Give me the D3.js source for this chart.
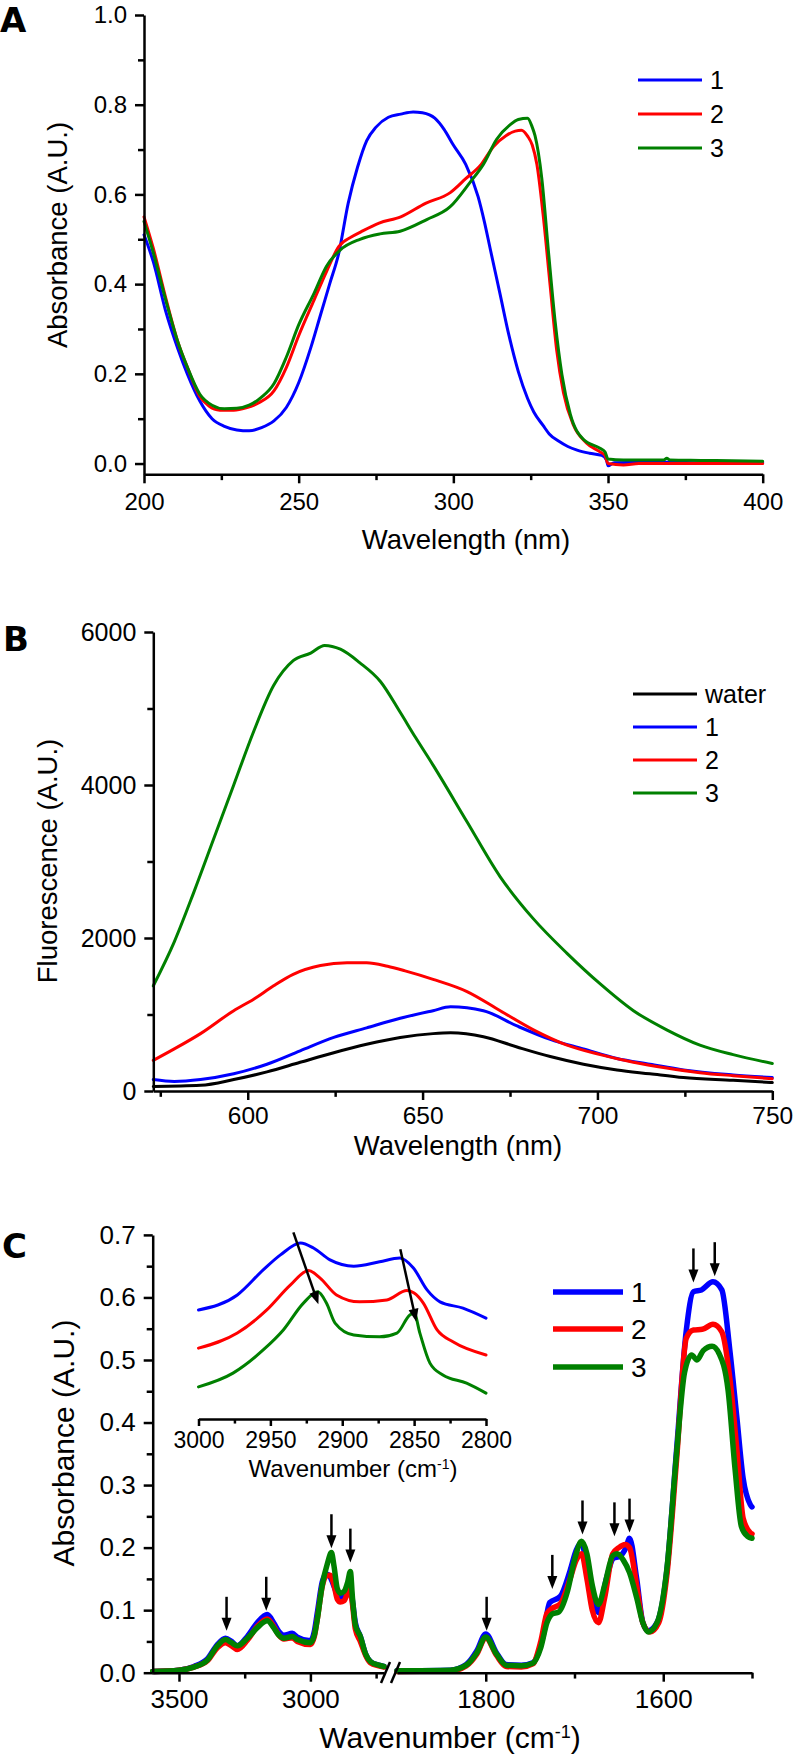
<!DOCTYPE html>
<html>
<head>
<meta charset="utf-8">
<script src="https://cdn.jsdelivr.net/npm/d3@7"></script>
<style>
body { margin: 0; background: #fff; }
svg { display: block; background: #fff; }
</style>
</head>
<body>
<svg width="793" height="1758"></svg>
<script>
// ---------- data ----------
// Panel A: UV-vis absorbance, [wavelength nm, absorbance]
var uvNames = ["1", "2", "3"];
var uv1 = [[200,0.51],[203,0.45],[207,0.34],[211,0.255],[214,0.2],[218,0.14],[222,0.1],[226,0.083],[230,0.075],[234,0.073],[238,0.08],[242,0.095],[246,0.125],[250,0.18],[254,0.26],[257,0.33],[260,0.4],[263,0.47],[266,0.58],[269,0.66],[272,0.72],[275,0.75],[279,0.772],[283,0.779],[287,0.784],[290,0.782],[294,0.77],[297,0.745],[300,0.71],[304,0.667],[308,0.595],[310,0.54],[312,0.476],[315,0.381],[318,0.285],[321,0.205],[324,0.145],[326,0.115],[329,0.085],[331,0.066],[334,0.05],[337,0.038],[340,0.03],[344,0.023],[348,0.018],[349.5,0.008],[350,-0.005],[352,0.002],[360,0.003],[370,0.003],[380,0.002],[390,0.002],[400,0.002]];
var uv2 = [[200,0.55],[203,0.48],[207,0.37],[211,0.27],[214,0.215],[218,0.15],[221,0.128],[224.5,0.119],[229,0.119],[233,0.124],[237,0.135],[242,0.162],[246,0.214],[250,0.285],[255,0.365],[259,0.428],[263,0.484],[267,0.505],[270,0.516],[276,0.536],[283,0.55],[291,0.58],[299,0.604],[304,0.635],[309,0.667],[313,0.707],[317,0.731],[320,0.741],[322,0.743],[324,0.73],[325.5,0.71],[327,0.667],[329,0.556],[331.3,0.396],[333.4,0.253],[335.6,0.158],[338.8,0.086],[343,0.046],[347.4,0.026],[349,0.018],[350,0.0],[355,-0.003],[360,0.0],[370,0.0],[380,0.0],[390,0.0],[400,0.0]];
var uv3 = [[200,0.54],[203,0.47],[207,0.365],[211,0.27],[214,0.215],[218,0.155],[222,0.13],[226,0.122],[230,0.123],[234,0.13],[238,0.148],[242,0.178],[246,0.237],[250,0.309],[255,0.38],[259,0.44],[263.4,0.476],[269.8,0.5],[276.3,0.512],[282.8,0.518],[291.4,0.544],[298.9,0.572],[305.4,0.627],[309.7,0.667],[314,0.723],[318.3,0.755],[321,0.767],[324,0.77],[325.5,0.75],[326.4,0.731],[328.6,0.635],[330.7,0.476],[332.9,0.317],[335.1,0.198],[337.8,0.11],[342,0.054],[347.4,0.034],[349,0.026],[350,0.01],[355,0.008],[368,0.008],[369,0.012],[370,0.008],[380,0.007],[390,0.006],[400,0.005]];
var uvXTicks = [200, 250, 300, 350, 400];
var uvXMinor = [225, 275, 325, 375];
var uvYTicks = [0, 0.2, 0.4, 0.6, 0.8, 1.0];
var uvYMinor = [0.1, 0.3, 0.5, 0.7, 0.9];

// Panel B: fluorescence, [wavelength nm, intensity]
var flNames = ["water", "1", "2", "3"];
var flWater = [[573,60],[586.5,75],[596,150],[605.5,250],[615,375],[624.6,500],[634,610],[643.6,700],[653,750],[658,760],[667.4,710],[677,575],[686.5,450],[696,350],[705.6,275],[715,225],[724.6,175],[738.8,140],[750,110]];
var fl1 = [[573,150],[579,125],[586.5,150],[596,225],[605.5,350],[615,525],[624.6,700],[634,825],[643.6,950],[653,1050],[658,1100],[667.4,1050],[677,850],[686.5,675],[696,550],[705.6,425],[715,350],[724.6,275],[738.8,210],[750,175]];
var fl2 = [[573,400],[579,550],[586.5,750],[596,1050],[601.7,1200],[607.4,1375],[613,1525],[620.8,1640],[628.4,1675],[634,1675],[640,1630],[645,1570],[653,1460],[662.7,1300],[672.2,1050],[681.7,800],[691.3,600],[700.8,475],[710.3,375],[719.8,300],[729.3,240],[738.8,200],[750,160]];
var fl3 = [[573,1375],[579,1950],[584.6,2600],[590.3,3300],[596,4000],[601.7,4700],[607.4,5300],[613,5625],[618,5725],[622,5825],[626.5,5775],[632,5600],[638,5350],[643.6,4950],[648,4620],[653,4260],[662.7,3520],[672.2,2800],[681.7,2250],[691.3,1800],[700.8,1400],[710.3,1050],[719.8,800],[729.3,600],[738.8,475],[750,360]];
var flXTicks = [600, 650, 700, 750];
var flXMinor = [575, 625, 675, 725];
var flYTicks = [0, 2000, 4000, 6000];
var flYMinor = [1000, 3000, 5000];

// Panel C: FTIR, [wavenumber cm-1, absorbance], high and low wavenumber windows
var irNames = ["1", "2", "3"];
var irHigh1 = [[3600,0.002],[3500,0.004],[3443,0.01],[3392,0.022],[3354,0.045],[3323,0.055],[3300,0.05],[3278,0.043],[3240,0.058],[3202,0.08],[3164,0.093],[3140,0.08],[3120,0.066],[3101,0.06],[3069,0.063],[3050,0.057],[3000,0.051],[2985,0.066],[2974,0.095],[2955,0.145],[2940,0.158],[2925,0.153],[2910,0.138],[2898,0.125],[2886,0.12],[2872,0.122],[2858,0.135],[2850,0.14],[2840,0.115],[2829,0.08],[2810,0.058],[2790,0.03],[2772,0.018],[2740,0.012],[2720,0.01]];
var irHigh2 = [[3600,0.002],[3500,0.004],[3443,0.009],[3392,0.019],[3354,0.04],[3323,0.048],[3300,0.043],[3278,0.037],[3240,0.052],[3202,0.074],[3164,0.086],[3140,0.074],[3120,0.06],[3101,0.054],[3069,0.056],[3050,0.05],[3000,0.045],[2985,0.058],[2974,0.085],[2955,0.138],[2940,0.155],[2925,0.156],[2910,0.14],[2898,0.118],[2886,0.113],[2872,0.115],[2858,0.128],[2850,0.135],[2840,0.11],[2829,0.07],[2810,0.05],[2790,0.028],[2772,0.016],[2740,0.011],[2720,0.009]];
var irHigh3 = [[3600,0.002],[3500,0.004],[3443,0.009],[3392,0.02],[3354,0.043],[3323,0.053],[3300,0.048],[3278,0.043],[3240,0.055],[3202,0.072],[3164,0.083],[3140,0.072],[3120,0.06],[3101,0.055],[3069,0.058],[3050,0.053],[3000,0.048],[2985,0.06],[2974,0.085],[2955,0.14],[2935,0.175],[2920,0.192],[2910,0.17],[2898,0.135],[2886,0.127],[2872,0.13],[2858,0.145],[2848,0.162],[2840,0.12],[2829,0.076],[2810,0.058],[2790,0.03],[2772,0.018],[2740,0.012],[2720,0.01]];
var irLow1 = [[1900,0.003],[1840,0.004],[1822,0.013],[1810,0.035],[1800,0.062],[1788,0.032],[1777,0.013],[1760,0.012],[1747,0.016],[1735,0.061],[1728,0.112],[1716,0.122],[1705,0.163],[1698,0.196],[1692,0.208],[1685,0.157],[1677,0.106],[1673,0.096],[1664,0.151],[1656,0.183],[1649,0.186],[1642,0.2],[1638,0.215],[1630,0.151],[1623,0.08],[1617,0.067],[1607,0.08],[1596,0.163],[1585,0.356],[1574,0.548],[1566,0.609],[1557,0.612],[1544,0.625],[1534,0.612],[1525,0.516],[1517,0.407],[1510,0.311],[1502,0.269],[1500,0.265]];
var irLow2 = [[1900,0.002],[1840,0.003],[1822,0.011],[1810,0.03],[1800,0.056],[1788,0.028],[1777,0.01],[1760,0.009],[1747,0.014],[1738,0.05],[1731,0.095],[1725,0.103],[1716,0.11],[1705,0.15],[1698,0.18],[1692,0.19],[1686,0.15],[1680,0.1],[1673,0.08],[1666,0.12],[1657,0.19],[1650,0.2],[1643,0.205],[1638,0.2],[1630,0.14],[1623,0.08],[1615,0.065],[1605,0.08],[1596,0.155],[1585,0.34],[1574,0.535],[1566,0.548],[1556,0.549],[1544,0.557],[1534,0.545],[1525,0.471],[1517,0.356],[1510,0.247],[1502,0.224],[1500,0.222]];
var irLow3 = [[1900,0.003],[1840,0.004],[1822,0.012],[1810,0.032],[1800,0.057],[1788,0.03],[1777,0.012],[1760,0.011],[1747,0.015],[1738,0.04],[1731,0.08],[1725,0.094],[1718,0.097],[1708,0.13],[1700,0.18],[1692,0.21],[1686,0.19],[1680,0.14],[1673,0.109],[1666,0.14],[1657,0.187],[1652,0.19],[1645,0.18],[1638,0.16],[1630,0.12],[1623,0.08],[1617,0.065],[1607,0.08],[1596,0.165],[1585,0.35],[1576,0.48],[1568,0.508],[1562,0.5],[1555,0.515],[1545,0.522],[1537,0.51],[1527,0.452],[1519,0.324],[1512,0.234],[1505,0.218],[1500,0.215]];
var irHighTicks = [3500, 3000];
var irHighMinor = [3250, 2750];
var irLowTicks = [1800, 1600];
var irLowMinor = [1700, 1500];
var irYTicks = [0, 0.1, 0.2, 0.3, 0.4, 0.5, 0.6, 0.7];
var irYMinor = [0.05, 0.15, 0.25, 0.35, 0.45, 0.55, 0.65];
// peak markers: wavenumber and absorbance at arrow tip
var irArrowWave = [3319, 3168, 2920, 2848, 1799, 1725, 1691, 1655, 1638, 1566, 1542];
var irArrowTip = [0.067, 0.099, 0.199, 0.176, 0.067, 0.134, 0.221, 0.218, 0.224, 0.624, 0.634];

// inset: C-H stretch region (offset traces, same absorbance units)
var inset1 = [[3000,0.58],[2973,0.604],[2955,0.644],[2943,0.668],[2929,0.687],[2920,0.679],[2908.5,0.66],[2892,0.65],[2874,0.657],[2860,0.663],[2850.5,0.647],[2841,0.612],[2832,0.593],[2816,0.583],[2800,0.567]];
var inset2 = [[3000,0.519],[2973,0.543],[2952.5,0.58],[2936,0.62],[2923.5,0.643],[2915.4,0.631],[2904,0.604],[2888,0.593],[2869,0.596],[2855,0.611],[2850,0.607],[2843.6,0.591],[2834,0.548],[2823,0.529],[2800,0.508]];
var inset3 = [[3000,0.457],[2976,0.479],[2955,0.516],[2941,0.548],[2927,0.591],[2917,0.609],[2911,0.591],[2905,0.559],[2892,0.54],[2874,0.537],[2862,0.543],[2853,0.572],[2850,0.575],[2846,0.543],[2839,0.495],[2830,0.476],[2813.5,0.463],[2800,0.447]];
var insetTicks = [3000, 2950, 2900, 2850, 2800];
var insetMinor = [2975, 2925, 2875, 2825];
var insetArrowFrom = [[2934, 0.704], [2859.6, 0.677]];
var insetArrowTo = [[2916.6, 0.589], [2848.5, 0.561]];

var colors = { water: "#000000", "1": "#0000ff", "2": "#ff0000", "3": "#008000" };

// ---------- drawing ----------
var FONT = "'Liberation Sans', Arial, Helvetica, sans-serif";
var svg = d3.select("svg");
svg.append("rect").attr("width", 793).attr("height", 1758).attr("fill", "#fff");

function styleAxis(g, fs) {
  g.attr("font-family", FONT).attr("font-size", fs);
  g.selectAll("path, line").attr("stroke", "#000").attr("stroke-width", 2.5);
  g.selectAll("text").attr("fill", "#000");
}

function xAxis(scale, y, major, minor, fs, pad, fmt, size) {
  size = size || 9;
  svg.append("g").attr("transform", "translate(0," + y + ")")
    .call(d3.axisBottom(scale).tickValues(minor).tickSize(size * 0.65).tickFormat("").tickSizeOuter(0))
    .call(function(g) { g.select(".domain").remove(); styleAxis(g, fs); });
  svg.append("g").attr("transform", "translate(0," + y + ")")
    .call(d3.axisBottom(scale).tickValues(major).tickSize(size).tickPadding(pad).tickSizeOuter(0).tickFormat(fmt))
    .call(function(g) { styleAxis(g, fs); });
}

function yAxis(scale, x, major, minor, fs, fmt) {
  svg.append("g").attr("transform", "translate(" + x + ",0)")
    .call(d3.axisLeft(scale).tickValues(minor).tickSize(6).tickFormat("").tickSizeOuter(0))
    .call(function(g) { g.select(".domain").remove(); styleAxis(g, fs); });
  svg.append("g").attr("transform", "translate(" + x + ",0)")
    .call(d3.axisLeft(scale).tickValues(major).tickSize(9).tickPadding(8).tickSizeOuter(0).tickFormat(fmt))
    .call(function(g) { styleAxis(g, fs); });
}

function drawLine(data, xs, ys, color, w) {
  svg.append("path").datum(data)
    .attr("fill", "none").attr("stroke", color).attr("stroke-width", w)
    .attr("stroke-linejoin", "round").attr("stroke-linecap", "round")
    .attr("d", d3.line().x(function(d) { return xs(d[0]); }).y(function(d) { return ys(d[1]); }).curve(d3.curveMonotoneX));
}

function arrow(x1, y1, x2, y2, headLen, headW) {
  var dx = x2 - x1, dy = y2 - y1, len = Math.sqrt(dx * dx + dy * dy);
  var ux = dx / len, uy = dy / len;
  var bx = x2 - ux * headLen, by = y2 - uy * headLen;
  svg.append("line").attr("x1", x1).attr("y1", y1).attr("x2", bx + ux * 2).attr("y2", by + uy * 2)
    .attr("stroke", "#000").attr("stroke-width", 2.5);
  svg.append("path")
    .attr("d", "M" + x2 + "," + y2 + "L" + (bx - uy * headW) + "," + (by + ux * headW) + "L" + (bx + uy * headW) + "," + (by - ux * headW) + "Z")
    .attr("fill", "#000");
}

function text(x, y, str, fs, opts) {
  opts = opts || {};
  var t = svg.append("text").attr("x", x).attr("y", y)
    .attr("font-family", opts.family || FONT).attr("font-size", fs)
    .attr("font-weight", opts.weight || "normal")
    .attr("text-anchor", opts.anchor || "start").attr("fill", "#000");
  if (opts.rotate) t.attr("transform", "rotate(-90," + x + "," + y + ")");
  t.text(str);
  return t;
}

function legend(names, x1, x2, ys, fs, w) {
  names.forEach(function(n, i) {
    svg.append("line").attr("x1", x1).attr("x2", x2).attr("y1", ys[i]).attr("y2", ys[i])
      .attr("stroke", colors[n]).attr("stroke-width", w);
    text(x2 + 8, ys[i], n, fs).attr("dy", "0.36em");
  });
}

// ---- Panel A ----
var xA = d3.scaleLinear().domain([200, 400]).range([144, 762.7]);
var yA = d3.scaleLinear().domain([-0.024, 1]).range([474.3, 15]);
[uv1, uv2, uv3].forEach(function(s, i) { drawLine(s, xA, yA, colors[uvNames[i]], 3); });
xAxis(xA, 474.3, uvXTicks, uvXMinor, 24, 10, d3.format("d"));
yAxis(yA, 144, uvYTicks, uvYMinor, 24, d3.format(".1f"));
text(0, 32, "A", 34, { family: "'DejaVu Sans', Verdana, sans-serif", weight: "bold" });
text(67, 235, "Absorbance (A.U.)", 27.5, { anchor: "middle", rotate: true });
text(466, 549, "Wavelength (nm)", 27.5, { anchor: "middle" });
legend(uvNames, 638, 702, [80, 114, 148], 25, 3);

// ---- Panel B ----
var xB = d3.scaleLinear().domain([573, 750]).range([153.3, 772.3]);
var yB = d3.scaleLinear().domain([0, 6000]).range([1091, 632]);
[flWater, fl1, fl2, fl3].forEach(function(s, i) { drawLine(s, xB, yB, colors[flNames[i]], 3); });
xAxis(xB, 1091, flXTicks, flXMinor, 24.5, 6.5, d3.format("d"));
yAxis(yB, 153.3, flYTicks, flYMinor, 25, d3.format("d"));
text(3, 651, "B", 34, { family: "'DejaVu Sans', Verdana, sans-serif", weight: "bold" });
text(57, 861, "Fluorescence (A.U.)", 27.5, { anchor: "middle", rotate: true });
text(458, 1155, "Wavelength (nm)", 27.5, { anchor: "middle" });
legend(flNames, 633, 697, [694, 727, 760, 793], 25, 3);

// ---- Panel C ----
var xCH = d3.scaleLinear().domain([3600, 2720]).range([152.7, 384]);
var xCL = d3.scaleLinear().domain([1900, 1500]).range([397, 752]);
var yC = d3.scaleLinear().domain([0, 0.7]).range([1672.7, 1234.9]);
[irHigh1, irHigh2, irHigh3].forEach(function(s, i) { drawLine(s, xCH, yC, colors[irNames[i]], 5.5); });
[irLow1, irLow2, irLow3].forEach(function(s, i) { drawLine(s, xCL, yC, colors[irNames[i]], 5.5); });
xAxis(xCH, 1672.7, irHighTicks, irHighMinor, 26, 7.5, d3.format("d"));
xAxis(xCL, 1672.7, irLowTicks, irLowMinor, 26, 7.5, d3.format("d"));
yAxis(yC, 152.7, irYTicks, irYMinor, 26, d3.format(".1f"));

// axis break marks
var bx = (xCH.range()[1] + xCL.range()[0]) / 2;
[-5, 5].forEach(function(o) {
  svg.append("line").attr("x1", bx + o - 4.5).attr("y1", 1683).attr("x2", bx + o + 4.5).attr("y2", 1662)
    .attr("stroke", "#000").attr("stroke-width", 2.5);
});

// peak arrows
irArrowWave.forEach(function(w, i) {
  var ax = w > 2000 ? xCH(w) : xCL(w);
  var ty = yC(irArrowTip[i]);
  arrow(ax, ty - 34, ax, ty, 13, 5);
});

text(2, 1258, "C", 34, { family: "'DejaVu Sans', Verdana, sans-serif", weight: "bold" });
text(74, 1443, "Absorbance (A.U.)", 30, { anchor: "middle", rotate: true });
var tC = text(450, 1748, "Wavenumber (cm", 30, { anchor: "middle" });
tC.append("tspan").attr("font-size", 18).attr("baseline-shift", "super").text("-1");
tC.append("tspan").text(")");

legend(irNames, 553, 623, [1292, 1329, 1367], 28, 5.5);

// inset
var xI = d3.scaleLinear().domain([3000, 2800]).range([198.5, 486]);
[inset1, inset2, inset3].forEach(function(s, i) { drawLine(s, xI, yC, colors[irNames[i]], 3); });
xAxis(xI, 1419, insetTicks, insetMinor, 23, 6, d3.format("d"), 7);
insetArrowFrom.forEach(function(p, i) {
  var q = insetArrowTo[i];
  arrow(xI(p[0]), yC(p[1]), xI(q[0]), yC(q[1]), 13, 5);
});
var tI = text(353, 1477, "Wavenumber (cm", 24, { anchor: "middle" });
tI.append("tspan").attr("font-size", 14).attr("baseline-shift", "super").text("-1");
tI.append("tspan").text(")");
</script>
</body>
</html>
